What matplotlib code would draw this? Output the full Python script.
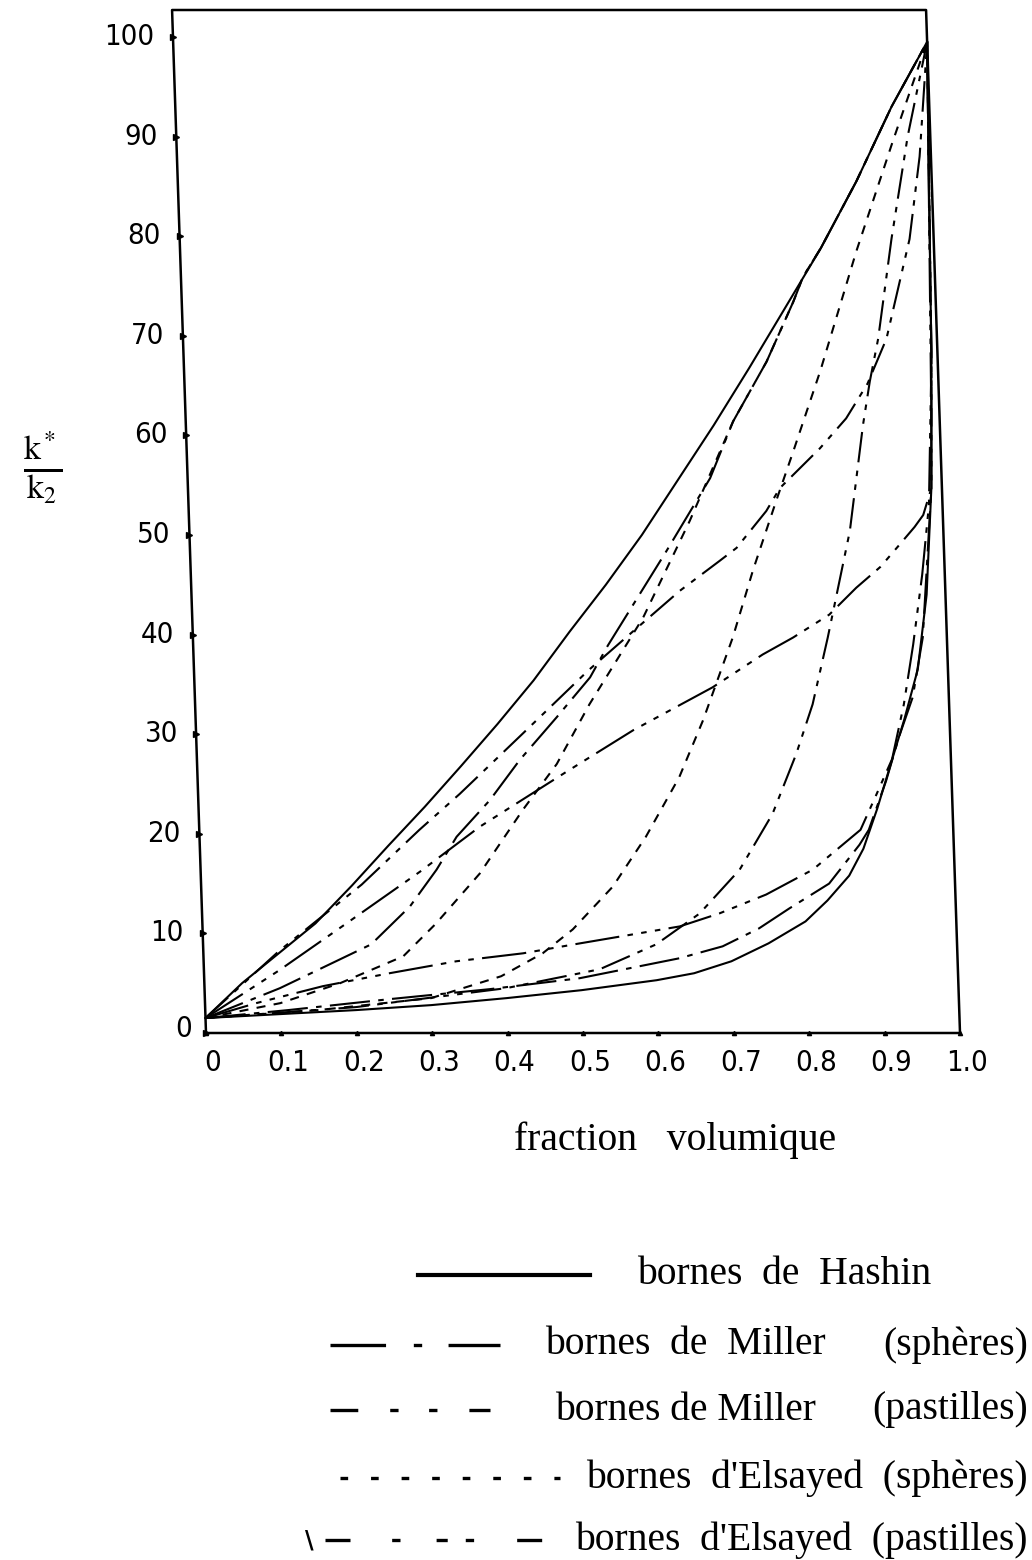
import numpy as np
import matplotlib.pyplot as plt
from matplotlib.lines import Line2D
from matplotlib.transforms import Affine2D

plt.rcParams['lines.scale_dashes'] = False
plt.rcParams['mathtext.fontset'] = 'stix'

# ---- values (k*/k2 vs volume fraction) ----
x_hashin_up = [0, 0.05, 0.1, 0.15, 0.2, 0.25, 0.3, 0.35, 0.4, 0.45, 0.5, 0.55, 0.6, 0.65, 0.7, 0.75, 0.8, 0.85, 0.9, 0.95, 1.0]
y_hashin_up = [1.5, 5.0, 8.0, 11.0, 14.8, 18.8, 22.7, 26.8, 31.0, 35.4, 40.3, 45.0, 50.0, 55.5, 61.0, 66.8, 72.8, 78.8, 85.5, 93.0, 99.5]

x_hashin_lo = [0, 0.1, 0.2, 0.3, 0.4, 0.5, 0.6, 0.65, 0.7, 0.75, 0.8, 0.83, 0.86, 0.88, 0.9, 0.92, 0.94, 0.96, 0.975, 0.986, 0.992, 0.996, 1.0]
y_hashin_lo = [1.5, 1.9, 2.3, 2.8, 3.5, 4.3, 5.3, 6.0, 7.2, 9.0, 11.2, 13.3, 15.8, 18.5, 22.5, 27.0, 31.5, 36.5, 44.0, 54.7, 68.4, 85.0, 99.5]

x_miller_sph_up = [0, 0.1, 0.223, 0.276, 0.313, 0.341, 0.387, 0.428, 0.479, 0.525, 0.55, 0.632, 0.693, 0.726, 0.773, 0.811, 0.825, 0.85, 0.9, 0.95, 1.0]
y_miller_sph_up = [1.5, 4.5, 8.9, 12.7, 16.4, 19.7, 23.4, 27.4, 31.7, 35.7, 38.9, 48.4, 55.7, 61.4, 67.4, 73.4, 75.9, 78.8, 85.5, 93.0, 99.5]

x_miller_sph_lo = [0, 0.11, 0.245, 0.378, 0.498, 0.631, 0.689, 0.738, 0.779, 0.833, 0.875, 0.888, 0.913, 0.932, 0.952, 0.968, 0.986, 0.992, 1.0]
y_miller_sph_lo = [1.5, 2.3, 3.4, 4.4, 5.5, 7.5, 8.7, 10.5, 12.5, 15.0, 18.9, 20.4, 25.3, 29.7, 33.7, 39.7, 54.7, 68.4, 99.5]

x_miller_pas_up = [0, 0.1, 0.213, 0.292, 0.347, 0.431, 0.523, 0.579, 0.648, 0.702, 0.725, 0.766, 0.785, 0.84, 0.876, 0.906, 0.933, 0.968, 0.985, 1.0]
y_miller_pas_up = [1.5, 8.2, 14.9, 20.4, 24.0, 29.9, 36.4, 40.0, 44.4, 47.4, 48.7, 52.4, 54.7, 58.7, 61.7, 65.2, 69.7, 79.7, 88.0, 99.5]

x_miller_pas_lo = [0, 0.2, 0.4, 0.525, 0.601, 0.66, 0.715, 0.761, 0.795, 0.819, 0.842, 0.876, 0.898, 0.909, 0.922, 0.944, 0.97, 1.0]
y_miller_pas_lo = [1.5, 2.6, 4.5, 6.4, 8.9, 12.0, 16.4, 22.0, 28.0, 33.0, 39.7, 50.4, 61.0, 65.4, 69.7, 79.7, 90.0, 99.5]

x_elsayed_sph_up = [0, 0.1, 0.18, 0.265, 0.31, 0.37, 0.43, 0.477, 0.523, 0.598, 0.664, 0.726, 0.773, 0.811, 0.825, 0.85, 0.9, 0.95, 1.0]
y_elsayed_sph_up = [1.5, 3.0, 5.0, 7.7, 11.0, 16.0, 22.4, 27.0, 33.0, 41.7, 51.4, 61.4, 67.4, 73.4, 75.9, 78.8, 85.5, 93.0, 99.5]

x_elsayed_sph_lo = [0, 0.15, 0.3, 0.394, 0.45, 0.491, 0.546, 0.592, 0.639, 0.673, 0.716, 0.746, 0.78, 0.805, 0.844, 0.897, 0.95, 1.0]
y_elsayed_sph_lo = [1.5, 2.3, 3.5, 5.7, 8.0, 10.4, 14.7, 19.7, 25.7, 31.4, 39.7, 46.5, 53.5, 58.5, 66.5, 78.5, 89.5, 99.5]

x_elsayed_pas_up = [0, 0.1, 0.191, 0.291, 0.372, 0.489, 0.58, 0.687, 0.755, 0.796, 0.845, 0.882, 0.915, 0.941, 0.962, 0.974, 0.986, 0.992, 1.0]
y_elsayed_pas_up = [1.5, 6.3, 11.0, 16.2, 20.7, 26.2, 30.4, 34.7, 38.0, 39.7, 42.0, 44.7, 46.8, 49.0, 50.8, 52.0, 54.7, 68.4, 99.5]

x_elsayed_pas_lo = [0, 0.068, 0.157, 0.246, 0.335, 0.424, 0.5, 0.633, 0.686, 0.749, 0.812, 0.877, 0.9, 0.922, 0.94, 0.955, 0.97, 0.982, 0.99, 1.0]
y_elsayed_pas_lo = [1.5, 3.0, 4.7, 6.0, 7.2, 8.0, 9.0, 10.7, 12.0, 13.9, 16.4, 20.4, 24.0, 27.5, 33.0, 39.0, 46.0, 53.0, 65.0, 99.5]

x_ticks = [0, 0.1, 0.2, 0.3, 0.4, 0.5, 0.6, 0.7, 0.8, 0.9, 1.0]
x_tick_labels = ['0', '0.1', '0.2', '0.3', '0.4', '0.5', '0.6', '0.7', '0.8', '0.9', '1.0']
y_ticks = [0, 10, 20, 30, 40, 50, 60, 70, 80, 90, 100]
y_tick_labels = ['0', '10', '20', '30', '40', '50', '60', '70', '80', '90', '100']

legend_labels = ['bornes  de  Hashin', 'bornes  de  Miller', 'bornes de Miller',
                 "bornes  d'Elsayed  (sphères)", "bornes  d'Elsayed  (pastilles)"]
legend_suffix = ['', '(sphères)', '(pastilles)', '', '']

# dash patterns in points (lines.scale_dashes off)
ls_hashin = '-'
ls_miller_sph = (0, (29, 6, 4, 6))
ls_miller_pas = (0, (22, 6, 4, 6, 4, 6))
ls_elsayed_sph = (0, (6.5, 6))
ls_elsayed_pas = (0, (32, 6, 4, 6, 4, 6, 4, 6))

W, H = 1032, 1560
fig = plt.figure(figsize=(W / 100, H / 100), dpi=100)
ax = fig.add_axes([206 / W, 1 - 1033 / H, 754 / W, 1023 / H])
ax.set_xlim(0, 1)
ax.set_ylim(0, 102.7)
ax.axis('off')

# the scanned page is skewed: frame leans to the left going up
skew = Affine2D(np.array([[1, -0.045, 0], [0, 1, 0], [0, 0, 1]]))
tr = ax.transScale + ax.transLimits + skew + ax.transAxes

# frame
ax.plot([0, 0, 1, 1, 0], [0, 1, 1, 0, 0], transform=skew + ax.transAxes,
        color='k', lw=1.8, clip_on=False)

curves = [
    (x_hashin_up, y_hashin_up, ls_hashin),
    (x_hashin_lo, y_hashin_lo, ls_hashin),
    (x_miller_sph_up, y_miller_sph_up, ls_miller_sph),
    (x_miller_sph_lo, y_miller_sph_lo, ls_miller_sph),
    (x_miller_pas_up, y_miller_pas_up, ls_miller_pas),
    (x_miller_pas_lo, y_miller_pas_lo, ls_miller_pas),
    (x_elsayed_sph_up, y_elsayed_sph_up, ls_elsayed_sph),
    (x_elsayed_sph_lo, y_elsayed_sph_lo, ls_elsayed_sph),
    (x_elsayed_pas_up, y_elsayed_pas_up, ls_elsayed_pas),
    (x_elsayed_pas_lo, y_elsayed_pas_lo, ls_elsayed_pas),
]
for xs, ys, ls in curves:
    ax.plot(xs, ys, transform=tr, color='k', lw=1.5, linestyle=ls, clip_on=False)

# ticks
ax.plot([0] * len(y_ticks), y_ticks, transform=tr, ls='none', marker='>', ms=5,
        color='k', clip_on=False)
ax.plot(x_ticks, [0] * len(x_ticks), transform=tr, ls='none', marker='^', ms=3,
        color='k', clip_on=False)

tick_font = dict(family='DejaVu Sans', fontsize=21, fontstretch='condensed', color='k')
for xv, lab in zip(x_ticks, x_tick_labels):
    ax.text(xv + 0.008, -3.0, lab, transform=tr, ha='center', va='center', **tick_font)
for yv, lab in zip(y_ticks[1:], y_tick_labels[1:]):
    ax.text(-0.025, yv, lab, transform=tr, ha='right', va='center', **tick_font)
ax.text(-0.018, 0.4, y_tick_labels[0], transform=tr, ha='right', va='center', **tick_font)

serif = dict(family='Liberation Serif', fontsize=28.5, color='k')

def fx(px):
    return px / W

def fy(py):
    return 1 - py / H

fig.text(fx(675), fy(1140), 'fraction   volumique', ha='center', va='center', **serif)
fig.text(fx(43), fy(468), r'$\frac{\mathrm{k}^*}{\mathrm{k}_2}$', ha='center', va='center',
         fontsize=35)

# legend drawn as in the original: sample stroke on the left, text on the right
rows_y = [1275, 1345, 1410, 1478, 1540]
sample_x = [(418, 590), (330, 500), (330, 490), (340, 560), (325, 555)]
sample_ls = ['-',
             (0, (40, 20, 6, 19)),
             (0, (20, 23, 6, 22, 6, 23)),
             (0, (5.5, 16.5)),
             (0, (18, 30, 6, 26, 8, 13, 6, 31))]
sample_lw = [3, 2.4, 2.4, 2.4, 2.4]
text_left = [637, 545, 555, None, None]

for i in range(5):
    x0, x1 = sample_x[i]
    fig.add_artist(Line2D([fx(x0), fx(x1)], [fy(rows_y[i]), fy(rows_y[i])],
                          transform=fig.transFigure, color='k', lw=sample_lw[i],
                          linestyle=sample_ls[i]))
    if text_left[i] is not None:
        fig.text(fx(text_left[i]), fy(rows_y[i]), legend_labels[i], ha='left',
                 va='center', **serif)
    else:
        fig.text(fx(1028), fy(rows_y[i]), legend_labels[i], ha='right',
                 va='center', **serif)
    if legend_suffix[i]:
        fig.text(fx(1028), fy(rows_y[i]), legend_suffix[i], ha='right',
                 va='center', **serif)

fig.text(fx(309), fy(1540), '\\', ha='center', va='center', fontsize=17,
         fontweight='bold', family='DejaVu Sans')

fig.savefig('out.png', dpi=100)
